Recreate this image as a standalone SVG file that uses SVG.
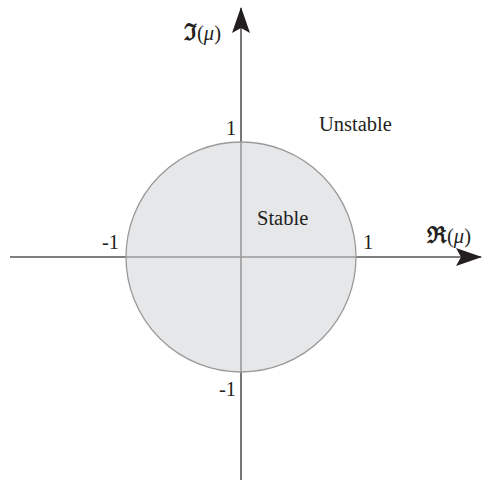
<svg xmlns="http://www.w3.org/2000/svg" width="484" height="484" viewBox="0 0 484 484">
<style>
.ax{stroke:#555;stroke-width:1.6;fill:none}
.in{stroke:#9a9a9a;stroke-width:1.6;fill:none}
.t{font-family:"Liberation Serif","DejaVu Serif",serif;font-size:20.5px;fill:#231f20}
.mu{font-style:italic}
.fr{font-size:23px;font-weight:bold}
</style>
<defs>
<marker id="ah" viewBox="0 0 26 20" refX="25" refY="10" markerWidth="26" markerHeight="20" markerUnits="userSpaceOnUse" orient="auto">
<path d="M0,1 L26,10 L0,19 L5,10 Z" fill="#231f20"/>
</marker>
</defs>
<g id="connectors">
<line class="ax" x1="10" y1="257" x2="481" y2="257" marker-end="url(#ah)"/>
<line class="ax" x1="241" y1="480" x2="241" y2="8" marker-end="url(#ah)"/>
</g>
<g id="unit-circle">
<circle cx="241" cy="257" r="115" fill="#e6e7e9" stroke="#9a9a9a" stroke-width="1.3"/>
<line class="in" x1="126" y1="257" x2="356" y2="257"/>
<line class="in" x1="241" y1="142" x2="241" y2="372"/>
</g>
<g id="labels">
<text class="t" x="184" y="40"><tspan class="fr">ℑ</tspan>(<tspan class="mu">μ</tspan>)</text>
<text class="t" x="427" y="243"><tspan class="fr">ℜ</tspan>(<tspan class="mu">μ</tspan>)</text>
<text class="t" x="226" y="135">1</text>
<text class="t" x="319" y="131">Unstable</text>
<text class="t" x="257" y="225">Stable</text>
<text class="t" x="102" y="249">-1</text>
<text class="t" x="363" y="249">1</text>
<text class="t" x="219" y="396">-1</text>
</g>
</svg>
